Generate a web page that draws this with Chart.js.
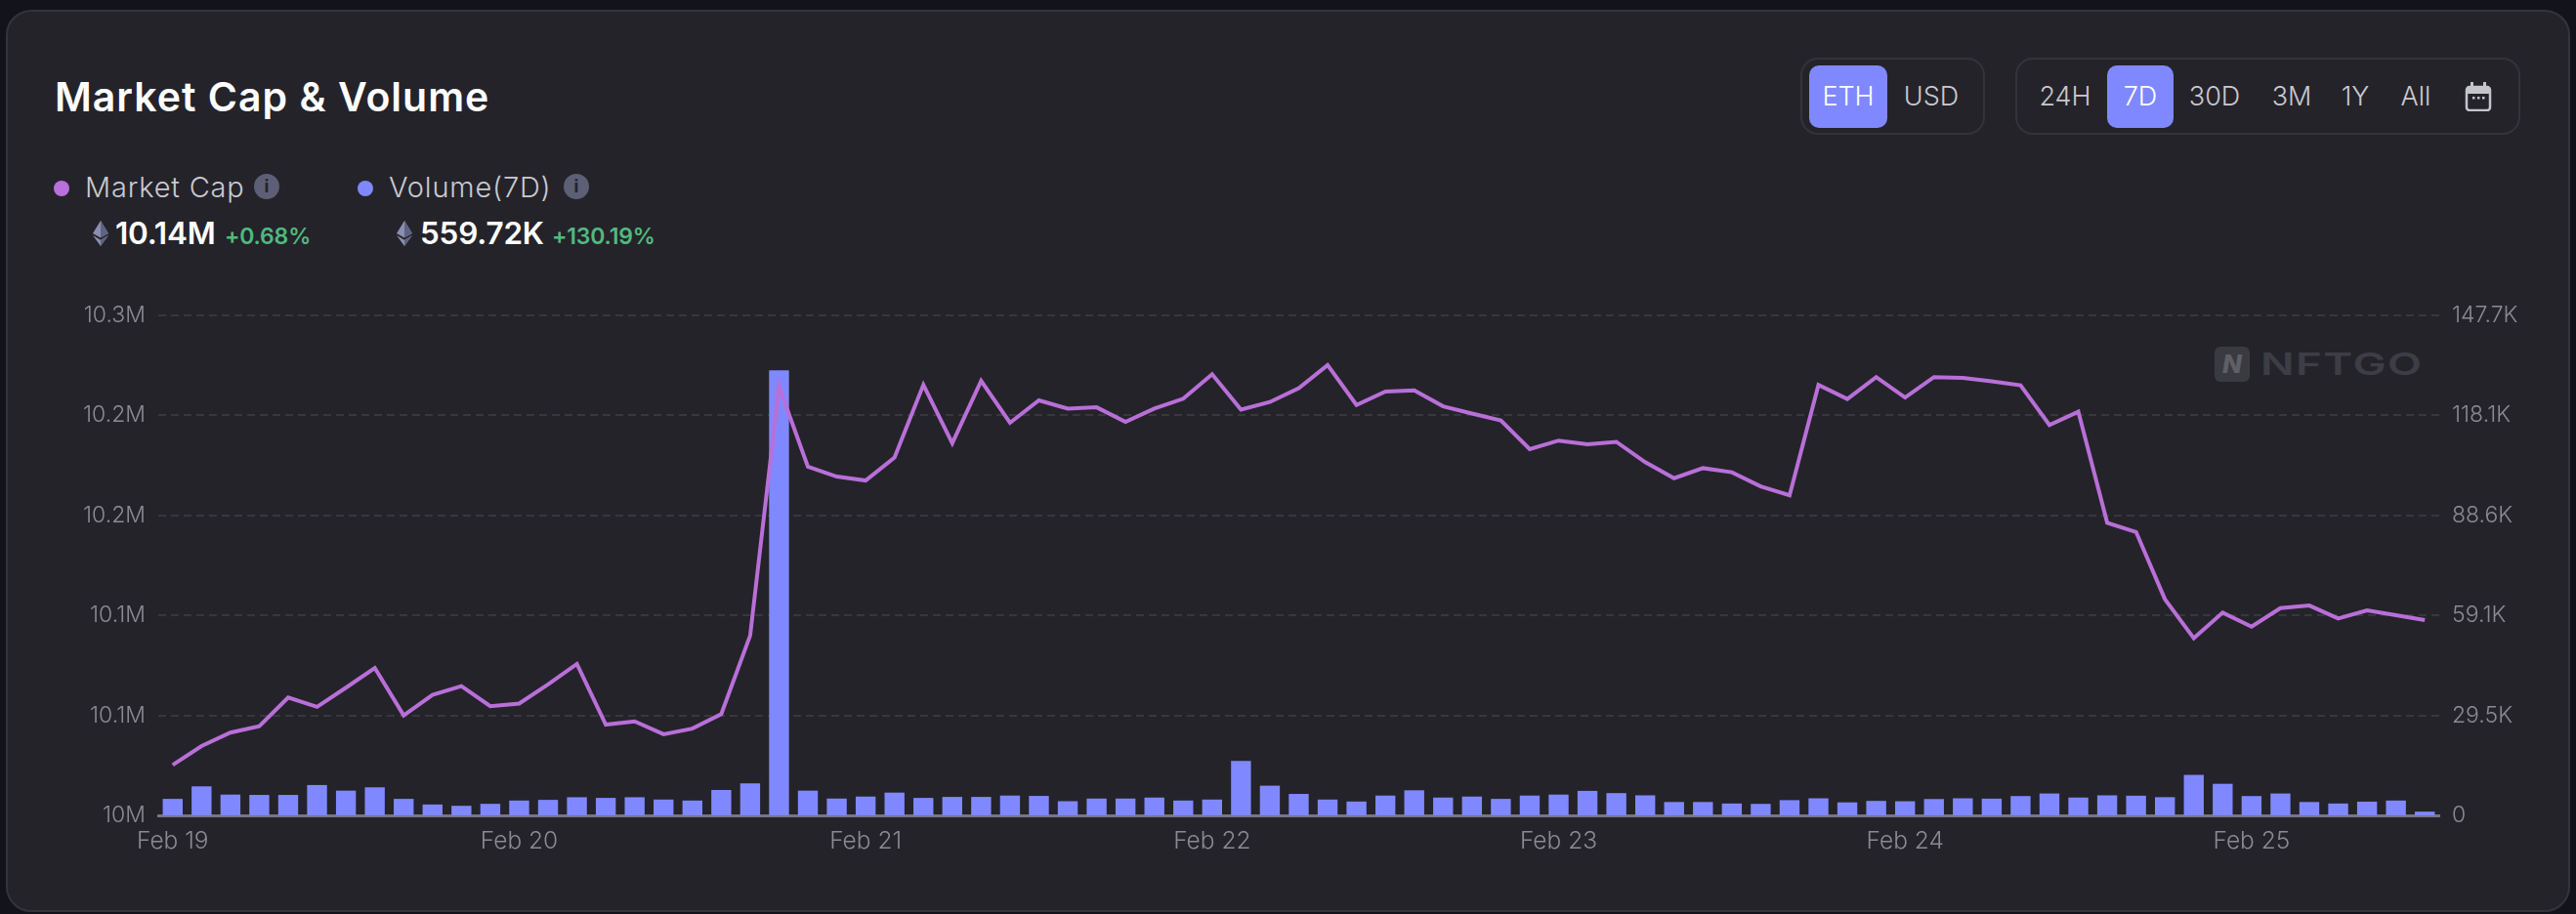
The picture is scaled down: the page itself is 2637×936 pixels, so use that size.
<!DOCTYPE html>
<html>
<head>
<meta charset="utf-8">
<title>Market Cap & Volume</title>
<script src="https://cdn.jsdelivr.net/npm/chart.js@4"></script>
<style>
  html, body { margin: 0; padding: 0; width: 2637px; height: 936px; background: #13131b; overflow: hidden; }
  body { font-family: Inter, sans-serif; color: #c4c4cb; }
  .card { position: absolute; left: 6px; top: 10px; width: 2621px; height: 920px; background: #24232a; border: 2px solid #34343b; border-radius: 26px; box-sizing: content-box; }
  .abs { position: absolute; white-space: nowrap; }
  .title { left: 56px; top: 73px; font-size: 41px; line-height: 52px; font-weight: 600; color: #fff; letter-spacing: 1px; }
  .dot { width: 16px; height: 16px; border-radius: 50%; }
  .name { top: 172px; font-size: 29px; line-height: 40px; font-weight: 300; color: #c9c9d0; letter-spacing: 0.8px; }
  .info { width: 26px; height: 26px; border-radius: 50%; background: #5c5f75; color: #24232a; font-size: 18px; line-height: 26px; text-align: center; font-weight: 700; }
  .val { top: 219px; font-size: 31.5px; line-height: 40px; font-weight: 600; color: #fff; letter-spacing: -0.2px; }
  .pct { top: 226px; font-size: 23px; line-height: 32px; font-weight: 600; color: #50b97f; letter-spacing: -0.2px; }
  .group { top: 59px; height: 75px; border: 2px solid #33333a; border-radius: 18px; }
  .btn { top: 67px; height: 64px; border-radius: 10px; background: #8088ff; }
  .opt { top: 78px; font-size: 27px; line-height: 42px; font-weight: 300; color: #c9c9d0; transform: translateX(-50%); }
  .opt.on { color: #fff; }
  .wm { left: 2314px; top: 351px; font-size: 31px; line-height: 44px; font-weight: 600; color: #3d3d46; letter-spacing: 1px; transform: scaleX(1.47); transform-origin: left center; }
  .wmbox { left: 2267px; top: 355px; width: 36px; height: 36px; border-radius: 6px; background: #3a3a41; color: #5f5f66; font-size: 26px; line-height: 36px; text-align: center; font-weight: 800; font-style: italic; }
  canvas { position: absolute; left: 0; top: 0; }
</style>
</head>
<body>
<div class="card"></div>

<div class="abs title">Market Cap &amp; Volume</div>

<div class="abs dot" style="left:55px;top:185px;background:#b96fdc"></div>
<div class="abs name" style="left:87px">Market Cap</div>
<div class="abs info" style="left:260px;top:178px">i</div>
<div class="abs dot" style="left:366px;top:185px;background:#8088ff"></div>
<div class="abs name" style="left:398px">Volume(7D)</div>
<div class="abs info" style="left:577px;top:178px">i</div>

<svg class="abs" style="left:95px;top:226px" width="16" height="26" viewBox="0 0 16 26">
  <path d="M8 0L0 13l8 4.5L16 13z" fill="#8a8fb0"/><path d="M8 0v17.5L16 13z" fill="#5f6382"/>
  <path d="M0 15l8 11 8-11-8 4.7z" fill="#8a8fb0"/><path d="M8 19.7V26l8-11z" fill="#5f6382"/>
</svg>
<div class="abs val" style="left:118px">10.14M</div>
<div class="abs pct" style="left:230px">+0.68%</div>
<svg class="abs" style="left:406px;top:226px" width="16" height="26" viewBox="0 0 16 26">
  <path d="M8 0L0 13l8 4.5L16 13z" fill="#8a8fb0"/><path d="M8 0v17.5L16 13z" fill="#5f6382"/>
  <path d="M0 15l8 11 8-11-8 4.7z" fill="#8a8fb0"/><path d="M8 19.7V26l8-11z" fill="#5f6382"/>
</svg>
<div class="abs val" style="left:430px">559.72K</div>
<div class="abs pct" style="left:565px">+130.19%</div>

<div class="abs group" style="left:1843px;width:185px"></div>
<div class="abs btn" style="left:1852px;width:80px"></div>
<div class="abs opt on" style="left:1892px">ETH</div>
<div class="abs opt" style="left:1977px">USD</div>

<div class="abs group" style="left:2063px;width:513px"></div>
<div class="abs btn" style="left:2157px;width:68px"></div>
<div class="abs opt" style="left:2114px">24H</div>
<div class="abs opt on" style="left:2191px">7D</div>
<div class="abs opt" style="left:2267px">30D</div>
<div class="abs opt" style="left:2346px">3M</div>
<div class="abs opt" style="left:2411px">1Y</div>
<div class="abs opt" style="left:2473px">All</div>
<svg class="abs" style="left:2523px;top:84px" width="28" height="30" viewBox="0 0 28 30">
  <rect x="2" y="5" width="24" height="24" rx="3" fill="none" stroke="#c4c4cb" stroke-width="2.5"/>
  <path d="M2 8a3 3 0 0 1 3-3h18a3 3 0 0 1 3 3v4H2z" fill="#c4c4cb"/>
  <rect x="6" y="0" width="3" height="6" fill="#c4c4cb"/><rect x="19" y="0" width="3" height="6" fill="#c4c4cb"/>
  <rect x="8" y="15" width="2.5" height="2.5" fill="#c4c4cb"/><rect x="13" y="15" width="2.5" height="2.5" fill="#c4c4cb"/><rect x="18" y="15" width="2.5" height="2.5" fill="#c4c4cb"/>
</svg>

<div class="abs wmbox">N</div>
<div class="abs wm">NFTGO</div>

<canvas id="chart" width="2637" height="936"></canvas>

<script>
// one day is 12 points, 2h apart
var dayLabels = ['Feb 19', 'Feb 20', 'Feb 21', 'Feb 22', 'Feb 23', 'Feb 24', 'Feb 25'];
var leftTickLabels = ['10M', '10.1M', '10.1M', '10.2M', '10.2M', '10.3M'];
var rightTickLabels = ['0', '29.5K', '59.1K', '88.6K', '118.1K', '147.7K'];

var marketCap = [
  10025240, 10034640, 10041405, 10044540, 10058890, 10054270, 10063840, 10073740, 10049980, 10060210, 10064660, 10054600,
  10055920, 10065490, 10075720, 10045360, 10047010, 10040580, 10043380, 10050640, 10089900, 10214450, 10174360, 10169410,
  10167430, 10178980, 10215270, 10186070, 10217250, 10196300, 10207520, 10203400, 10204050, 10196790, 10203400, 10208340,
  10220550, 10202900, 10206700, 10213620, 10225170, 10205210, 10211970, 10212470, 10204550, 10200920, 10197460, 10183110,
  10187400, 10185580, 10186800, 10176600, 10168600, 10173630, 10171590, 10164530, 10160070, 10215220, 10208170, 10219130,
  10208910, 10219130, 10218750, 10217080, 10215040, 10195170, 10201860, 10146330, 10141690, 10108080, 10088580, 10101390,
  10094340, 10103620, 10104920, 10098420, 10102500, 10100090, 10097680
];

var volume = [
  4873, 8576, 6140, 6042, 6042, 8966, 7310, 8284, 4873, 3216, 2826, 3411,
  4386, 4580, 5360, 5165, 5360, 4678, 4386, 7504, 9454, 131474, 7310, 4970,
  5555, 6725, 5165, 5458, 5458, 5848, 5750, 4191, 4970, 4970, 5263, 4386,
  4678, 16081, 8771, 6335, 4678, 4093, 5848, 7407, 5263, 5555, 4873, 5848,
  6140, 7240, 6582, 5924, 3949, 3949, 3510, 3400, 4498, 5046, 3840, 4278,
  4169, 4827, 5046, 4937, 5704, 6472, 5266, 5924, 5814, 5375, 11957, 9325,
  5704, 6472, 3949, 3510, 4059, 4388, 1097
];

var categories = marketCap.map(function (v, i) {
  return dayLabels[Math.floor(i / 12)] + ' ' + String((i % 12) * 2).padStart(2, '0') + ':00';
});

var tickFont = { family: 'Inter', size: 23, weight: 300 };

var chart = new Chart(document.getElementById('chart'), {
  data: {
    labels: categories,
    datasets: [{
      type: 'line',
      label: 'Market Cap',
      data: marketCap,
      yAxisID: 'yCap',
      borderColor: '#b96fd8',
      borderWidth: 4,
      pointRadius: 0,
      tension: 0,
      order: 0
    }, {
      type: 'bar',
      label: 'Volume(7D)',
      data: volume,
      yAxisID: 'yVol',
      backgroundColor: '#8088ff',
      categoryPercentage: 1,
      barPercentage: 0.69,
      order: 1
    }]
  },
  options: {
    responsive: false,
    animation: false,
    devicePixelRatio: 1,
    layout: { padding: { top: 323, bottom: 41, left: 0, right: 0 } },
    plugins: { legend: { display: false }, tooltip: { enabled: false } },
    scales: {
      x: {
        grid: { display: false },
        border: { color: '#75768a', width: 3 },
        afterFit: function (scale) { scale.height = 60; },
        ticks: {
          autoSkip: false,
          maxRotation: 0,
          padding: 4,
          color: '#8a8a94',
          font: { family: 'Inter', size: 24.5, weight: 300 },
          callback: function (value, index) {
            return index % 12 === 0 ? dayLabels[index / 12] : '';
          }
        }
      },
      yCap: {
        position: 'left',
        min: 10000000,
        max: 10250000,
        afterFit: function (scale) { scale.width = 162; },
        border: { display: false, dash: [8, 5] },
        grid: { color: '#37373e', lineWidth: 2, drawTicks: false },
        ticks: {
          stepSize: 50000,
          padding: 13,
          color: '#8a8a94',
          font: tickFont,
          callback: function (value, index) { return leftTickLabels[index]; }
        }
      },
      yVol: {
        position: 'right',
        min: 0,
        max: 147700,
        afterFit: function (scale) { scale.width = 140; },
        border: { display: false },
        grid: { display: false, drawTicks: false },
        ticks: {
          stepSize: 29540,
          padding: 13,
          color: '#8a8a94',
          font: tickFont,
          callback: function (value, index) { return rightTickLabels[index]; }
        }
      }
    }
  }
});
</script>
</body>
</html>
